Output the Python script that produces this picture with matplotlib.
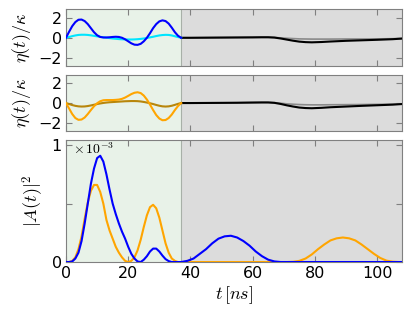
import matplotlib
matplotlib.use("Agg")
import matplotlib.pyplot as plt

plt.rcParams["mathtext.fontset"] = "cm"
plt.rcParams["font.family"] = "DejaVu Sans"

# time grids [ns]
t_pulse = list(range(0, 38))                       # 0..37, shaded green part
t_tail = [37, 40, 45, 50, 55, 60, 63, 65, 67, 69, 71, 73, 75, 77, 79,
          82, 85, 90, 95, 100, 105, 108]
t_late = list(range(37, 108, 2)) + [108]
T_SWITCH = 37
T_MAX = 108

# panel 1: eta(t)/kappa, first drive
eta1_blue = [0.0, 0.6, 1.15, 1.55, 1.78, 1.8, 1.65, 1.35, 0.95, 0.55, 0.25,
             0.08, 0.03, 0.03, 0.05, 0.08, 0.1, 0.08, 0.0, -0.15, -0.35,
             -0.55, -0.68, -0.7, -0.6, -0.35, 0.0, 0.45, 0.95, 1.35, 1.62,
             1.72, 1.65, 1.4, 1.0, 0.55, 0.2, 0.0]
eta1_cyan = [0.0, 0.08, 0.16, 0.23, 0.28, 0.3, 0.3, 0.28, 0.24, 0.19, 0.14,
             0.09, 0.05, 0.01, -0.03, -0.07, -0.1, -0.13, -0.15, -0.16,
             -0.17, -0.17, -0.16, -0.14, -0.11, -0.07, -0.02, 0.04, 0.1,
             0.17, 0.23, 0.27, 0.29, 0.28, 0.23, 0.15, 0.07, 0.0]
eta1_black = [0, 0.0, 0.01, 0.02, 0.03, 0.04, 0.05, 0.05, 0.02, -0.07, -0.18,
              -0.29, -0.38, -0.43, -0.45, -0.42, -0.37, -0.3, -0.25, -0.2,
              -0.14, -0.08]
eta1_gray = [0, 0.0, 0.01, 0.02, 0.03, 0.04, 0.05, 0.05, 0.03, -0.01, -0.05,
             -0.08, -0.11, -0.12, -0.13, -0.13, -0.13, -0.12, -0.12, -0.11,
             -0.09, -0.06]

# panel 2: eta(t)/kappa, second drive
eta2_orange = [0.0, -0.55, -1.1, -1.5, -1.68, -1.65, -1.45, -1.1, -0.7,
               -0.32, -0.02, 0.18, 0.28, 0.3, 0.3, 0.3, 0.32, 0.35, 0.42,
               0.55, 0.72, 0.9, 1.03, 1.08, 1.0, 0.75, 0.35, -0.15, -0.7,
               -1.2, -1.55, -1.72, -1.7, -1.5, -1.15, -0.7, -0.3, 0.0]
eta2_olive = [0.0, -0.1, -0.2, -0.28, -0.33, -0.35, -0.34, -0.3, -0.24,
              -0.17, -0.1, -0.04, 0.01, 0.05, 0.08, 0.1, 0.12, 0.14, 0.16,
              0.18, 0.19, 0.2, 0.2, 0.19, 0.16, 0.11, 0.05, -0.02, -0.1,
              -0.19, -0.27, -0.33, -0.35, -0.33, -0.27, -0.18, -0.08, 0.0]
eta2_black = [0, 0.0, 0.01, 0.02, 0.03, 0.05, 0.06, 0.06, 0.02, -0.09, -0.23,
              -0.35, -0.45, -0.5, -0.52, -0.48, -0.42, -0.35, -0.28, -0.22,
              -0.16, -0.1]
eta2_gray = [0, 0.0, 0.01, 0.02, 0.03, 0.05, 0.06, 0.06, 0.04, -0.02, -0.08,
             -0.12, -0.15, -0.17, -0.18, -0.18, -0.17, -0.16, -0.15, -0.13,
             -0.11, -0.08]

# panel 3: |A(t)|^2 in units of 1e-3
A2_blue_pulse = [0.0, 0.0, 0.005, 0.03, 0.08, 0.18, 0.33, 0.5, 0.67, 0.8,
                 0.89, 0.91, 0.86, 0.75, 0.62, 0.5, 0.41, 0.33, 0.26, 0.2,
                 0.13, 0.07, 0.03, 0.005, 0.0, 0.02, 0.05, 0.09, 0.115,
                 0.115, 0.09, 0.055, 0.025, 0.008, 0.0, 0.0, 0.0, 0.0]
A2_orange_pulse = [0.0, 0.0, 0.01, 0.04, 0.11, 0.22, 0.37, 0.51, 0.61, 0.66,
                   0.66, 0.6, 0.5, 0.36, 0.27, 0.2, 0.13, 0.08, 0.04, 0.01,
                   0.0, 0.01, 0.04, 0.1, 0.19, 0.3, 0.4, 0.47, 0.49, 0.46,
                   0.38, 0.27, 0.16, 0.08, 0.03, 0.01, 0.0, 0.0]
A2_blue_late = [0, 0.01, 0.03, 0.07, 0.11, 0.16, 0.2, 0.22, 0.225, 0.21,
                0.18, 0.14, 0.09, 0.05, 0.02, 0.005, 0,
                0, 0, 0, 0, 0, 0, 0, 0, 0, 0, 0, 0, 0, 0, 0, 0, 0, 0, 0, 0]
A2_orange_late = [0, 0, 0, 0, 0, 0, 0, 0, 0, 0, 0, 0, 0, 0, 0, 0, 0, 0,
                  0.002, 0.01, 0.03, 0.065, 0.11, 0.15, 0.185, 0.203, 0.21,
                  0.203, 0.185, 0.15, 0.11, 0.07, 0.035, 0.012, 0.003, 0.0, 0.0]

GREEN_BG = "#e8f2e8"
GRAY_BG = "#dcdcdc"
SPINE = "#808080"

fig = plt.figure(figsize=(4.11, 3.09), dpi=100)
ax1 = fig.add_axes([0.1606, 0.786, 0.8175, 0.1835])
ax2 = fig.add_axes([0.1606, 0.576, 0.8175, 0.181])
ax3 = fig.add_axes([0.1606, 0.152, 0.8175, 0.395])


def style(ax):
    ax.axvspan(0, T_SWITCH, color=GREEN_BG, lw=0, zorder=0)
    ax.axvspan(T_SWITCH, T_MAX, color=GRAY_BG, lw=0, zorder=0)
    ax.axvline(T_SWITCH, color="#a8b0a8", lw=0.8, zorder=1)
    ax.set_xlim(0, T_MAX)
    ax.set_xticks([0, 20, 40, 60, 80, 100])
    for s in ax.spines.values():
        s.set_color(SPINE)
    ax.tick_params(direction="in", top=True, right=True, length=4,
                   color=SPINE, labelsize=11.5, pad=3)


for ax, (main, sec, blk, gry), (c1, c2) in [
        (ax1, (eta1_blue, eta1_cyan, eta1_black, eta1_gray), ("#0000ff", "#00e5ff")),
        (ax2, (eta2_orange, eta2_olive, eta2_black, eta2_gray), ("#ffa500", "#b8860b"))]:
    style(ax)
    ax.plot(t_tail, gry, color="#8a8a8a", lw=1.2, zorder=2)
    ax.plot(t_tail, blk, color="black", lw=1.5, zorder=3)
    ax.plot(t_pulse, sec, color=c2, lw=1.5, zorder=3)
    ax.plot(t_pulse, main, color=c1, lw=1.5, zorder=4)
    ax.set_ylim(-2.8, 2.8)
    ax.set_yticks([-2, 0, 2])
    ax.set_xticklabels([])
    ax.set_ylabel(r"$\eta(t)/\kappa$", fontsize=13)

style(ax3)
ax3.plot(t_pulse + t_late[1:], A2_orange_pulse + A2_orange_late[1:],
         color="#ffa500", lw=1.5, zorder=3)
ax3.plot(t_pulse + t_late[1:], A2_blue_pulse + A2_blue_late[1:],
         color="#0000ff", lw=1.5, zorder=4)
ax3.set_ylim(0, 1.045)
ax3.set_yticks([0, 0.5, 1])
ax3.set_yticklabels(["0", "", "1"])
ax3.text(0.02, 0.985, r"$\times\,10^{-3}$", transform=ax3.transAxes,
         fontsize=10, ha="left", va="top")
ax3.set_ylabel(r"$|A(t)|^2$", fontsize=13)
ax3.set_xlabel(r"$t\,[ns]$", fontsize=13, labelpad=2)

fig.savefig("out.png", dpi=100)
